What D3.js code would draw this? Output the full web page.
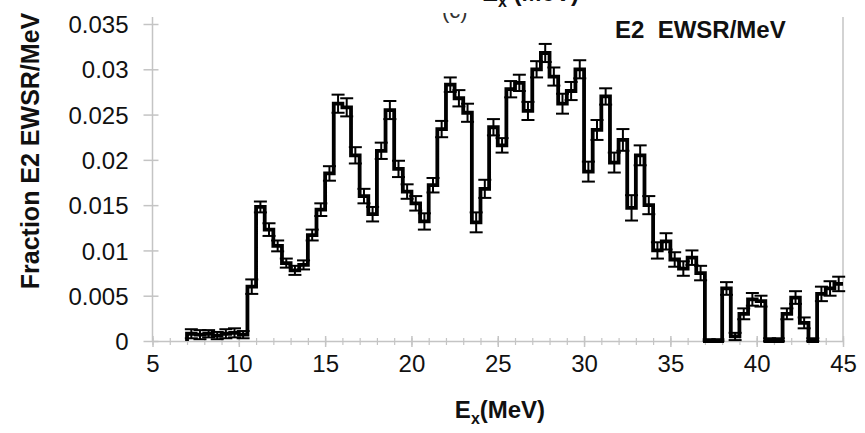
<!DOCTYPE html>
<html>
<head>
<meta charset="utf-8">
<script src="https://cdn.jsdelivr.net/npm/d3@7"></script>
<style>
  html, body { margin: 0; padding: 0; background: #fff; }
  svg { display: block; }
  text { font-family: "Liberation Sans", Arial, sans-serif; fill: #111; }
</style>
</head>
<body>
<svg id="chart" width="865" height="433"></svg>
<script>
// Lower edge of each 0.5 MeV excitation-energy bin (MeV)
const binLow = [
  7.0, 7.5, 8.0, 8.5, 9.0, 9.5, 10.0, 10.5, 11.0, 11.5,
  12.0, 12.5, 13.0, 13.5, 14.0, 14.5, 15.0, 15.5, 16.0, 16.5,
  17.0, 17.5, 18.0, 18.5, 19.0, 19.5, 20.0, 20.5, 21.0, 21.5,
  22.0, 22.5, 23.0, 23.5, 24.0, 24.5, 25.0, 25.5, 26.0, 26.5,
  27.0, 27.5, 28.0, 28.5, 29.0, 29.5, 30.0, 30.5, 31.0, 31.5,
  32.0, 32.5, 33.0, 33.5, 34.0, 34.5, 35.0, 35.5, 36.0, 36.5,
  37.0, 37.5, 38.0, 38.5, 39.0, 39.5, 40.0, 40.5, 41.0, 41.5,
  42.0, 42.5, 43.0, 43.5, 44.0, 44.5
];
const binWidth = 0.5;

// Fraction of the E2 energy-weighted sum rule per MeV in each bin
const fractionE2 = [
  0.0008, 0.0007, 0.0008, 0.0006, 0.0008, 0.0009, 0.0007, 0.0060, 0.0148, 0.0123,
  0.0105, 0.0086, 0.0078, 0.0084, 0.0117, 0.0145, 0.0185, 0.0262, 0.0258, 0.0205,
  0.0160, 0.0140, 0.0210, 0.0255, 0.0190, 0.0165, 0.0152, 0.0132, 0.0172, 0.0234,
  0.0283, 0.0268, 0.0252, 0.0131, 0.0168, 0.0236, 0.0216, 0.0278, 0.0285, 0.0254,
  0.0300, 0.0318, 0.0292, 0.0262, 0.0276, 0.0300, 0.0187, 0.0233, 0.0270, 0.0197,
  0.0222, 0.0147, 0.0205, 0.0150, 0.0100, 0.0110, 0.0090, 0.0080, 0.0092, 0.0075,
  0.0000, 0.0000, 0.0058, 0.0005, 0.0030, 0.0046, 0.0044, 0.0000, 0.0000, 0.0030,
  0.0048, 0.0020, 0.0000, 0.0052, 0.0058, 0.0063
];

// Statistical uncertainty of each bin
const fractionErr = [
  0.0005, 0.0005, 0.0004, 0.0004, 0.0005, 0.0005, 0.0004, 0.0008, 0.0006, 0.0007,
  0.0006, 0.0005, 0.0005, 0.0005, 0.0006, 0.0007, 0.0008, 0.0010, 0.0010, 0.0009,
  0.0008, 0.0008, 0.0009, 0.0010, 0.0009, 0.0008, 0.0008, 0.0009, 0.0008, 0.0009,
  0.0008, 0.0009, 0.0010, 0.0011, 0.0010, 0.0009, 0.0008, 0.0009, 0.0009, 0.0010,
  0.0009, 0.0010, 0.0010, 0.0011, 0.0010, 0.0010, 0.0011, 0.0011, 0.0009, 0.0011,
  0.0012, 0.0014, 0.0011, 0.0010, 0.0009, 0.0009, 0.0008, 0.0008, 0.0008, 0.0008,
  0.0002, 0.0002, 0.0007, 0.0004, 0.0006, 0.0007, 0.0006, 0.0003, 0.0003, 0.0006,
  0.0007, 0.0006, 0.0003, 0.0008, 0.0008, 0.0008
];

const xTicks = [5, 10, 15, 20, 25, 30, 35, 40, 45];
const xMinorTicks = d3.range(5, 46, 1);
const yTicks = [0, 0.005, 0.01, 0.015, 0.02, 0.025, 0.03, 0.035];
const yTickLabels = ["0", "0.005", "0.01", "0.015", "0.02", "0.025", "0.03", "0.035"];

const svg = d3.select("#chart");
const plotLeft = 152.5, plotRight = 843, plotTop = 17, plotBottom = 341;

const x = d3.scaleLinear().domain([5, 45]).range([plotLeft, plotRight]);
const y = d3.scaleLinear().domain([0, 0.035]).range([plotBottom, 24]);

const axisColor = "#c4c4c4";

// Plot frame: left axis, right border and baseline
svg.append("line").attr("x1", plotLeft).attr("x2", plotLeft).attr("y1", plotTop).attr("y2", plotBottom)
  .attr("stroke", axisColor).attr("stroke-width", 1.5);
svg.append("line").attr("x1", plotRight).attr("x2", plotRight).attr("y1", plotTop).attr("y2", plotBottom)
  .attr("stroke", axisColor).attr("stroke-width", 1.5);

// Y axis (ticks cross the axis line)
const yAxis = d3.axisLeft(y).tickValues(yTicks).tickSize(0).tickFormat((d, i) => yTickLabels[i]);
const gy = svg.append("g").attr("transform", `translate(${plotLeft},0)`).call(yAxis);
gy.select(".domain").remove();
gy.selectAll(".tick text").attr("x", -24).attr("dy", "0.36em")
  .style("font-size", "24px").style("fill", "#111");
gy.selectAll(".tick").append("line").attr("x1", -9).attr("x2", 6)
  .attr("stroke", axisColor).attr("stroke-width", 1.5);

// X axis: major labelled ticks and 1 MeV minor ticks
const xAxisMinor = d3.axisBottom(x).tickValues(xMinorTicks).tickSize(0).tickFormat("");
const gxm = svg.append("g").attr("transform", `translate(0,${plotBottom})`).call(xAxisMinor);
gxm.select(".domain").attr("stroke", axisColor).attr("stroke-width", 1.5);
gxm.selectAll(".tick line").remove();
gxm.selectAll(".tick").append("line").attr("y1", -3).attr("y2", 4)
  .attr("stroke", axisColor).attr("stroke-width", 1.2);

const xAxis = d3.axisBottom(x).tickValues(xTicks).tickSize(0).tickFormat(d3.format("d"));
const gx = svg.append("g").attr("transform", `translate(0,${plotBottom})`).call(xAxis);
gx.select(".domain").remove();
gx.selectAll(".tick").append("line").attr("y1", -5).attr("y2", 6)
  .attr("stroke", axisColor).attr("stroke-width", 1.5);
gx.selectAll(".tick text").attr("y", 14).attr("dy", "0.71em")
  .style("font-size", "24px").style("fill", "#111");

// Step outline of the histogram
const bins = binLow.map((e, i) => ({ lo: e, hi: e + binWidth, v: fractionE2[i], err: fractionErr[i] }));
const stepPts = [[binLow[0], 0]].concat(bins.map(b => [b.lo, b.v]));
stepPts.push([bins[bins.length - 1].hi, bins[bins.length - 1].v]);

const plot = svg.append("g");

// Error bars at bin centres
const capHalf = 6.5;
const mid = b => x((b.lo + b.hi) / 2);
const eb = plot.selectAll("g.err").data(bins.filter(b => b.err > 0)).join("g").attr("class", "err");
eb.append("line")
  .attr("x1", mid).attr("x2", mid)
  .attr("y1", b => y(Math.max(0, b.v - b.err))).attr("y2", b => y(b.v + b.err))
  .attr("stroke", "#000").attr("stroke-width", 2);
eb.append("line")
  .attr("x1", b => mid(b) - capHalf).attr("x2", b => mid(b) + capHalf)
  .attr("y1", b => y(b.v + b.err)).attr("y2", b => y(b.v + b.err))
  .attr("stroke", "#000").attr("stroke-width", 2);
eb.append("line")
  .attr("x1", b => mid(b) - capHalf).attr("x2", b => mid(b) + capHalf)
  .attr("y1", b => y(Math.max(0, b.v - b.err))).attr("y2", b => y(Math.max(0, b.v - b.err)))
  .attr("stroke", "#000").attr("stroke-width", 2);

plot.append("path")
  .datum(stepPts)
  .attr("fill", "none")
  .attr("stroke", "#000")
  .attr("stroke-width", 3.8)
  .attr("stroke-linejoin", "miter")
  .attr("d", d3.line().x(d => x(d[0])).y(d => y(d[1])).curve(d3.curveStepAfter));

// In-plot label
svg.append("text")
  .attr("x", 615).attr("y", 38)
  .style("font-size", "24px").style("font-weight", "bold")
  .style("white-space", "pre")
  .text("E2  EWSR/MeV");

// Panel title (runs off the top edge)
const title = svg.append("text")
  .attr("x", 482).attr("y", 1)
  .style("font-size", "24px").style("font-weight", "bold");
title.append("tspan").text("E");
title.append("tspan").attr("dy", 6).style("font-size", "16px").text("x");
title.append("tspan").attr("dy", -6).text(" (MeV)");

svg.append("clipPath").attr("id", "panelClip")
  .append("rect").attr("x", 400).attr("y", 13).attr("width", 120).attr("height", 40);
svg.append("text")
  .attr("clip-path", "url(#panelClip)")
  .attr("x", 442).attr("y", 18)
  .style("font-size", "22px").style("fill", "#333")
  .text("(c)");

// Axis titles
svg.append("text")
  .attr("transform", "translate(39,151) rotate(-90)")
  .attr("text-anchor", "middle")
  .style("font-size", "25px").style("font-weight", "bold")
  .text("Fraction E2 EWSR/MeV");

const xt = svg.append("text")
  .attr("x", 500).attr("y", 418)
  .attr("text-anchor", "middle")
  .style("font-size", "24px").style("font-weight", "bold");
xt.append("tspan").text("E");
xt.append("tspan").attr("dy", 6).style("font-size", "16px").text("x");
xt.append("tspan").attr("dy", -6).text("(MeV)");
</script>
</body>
</html>
